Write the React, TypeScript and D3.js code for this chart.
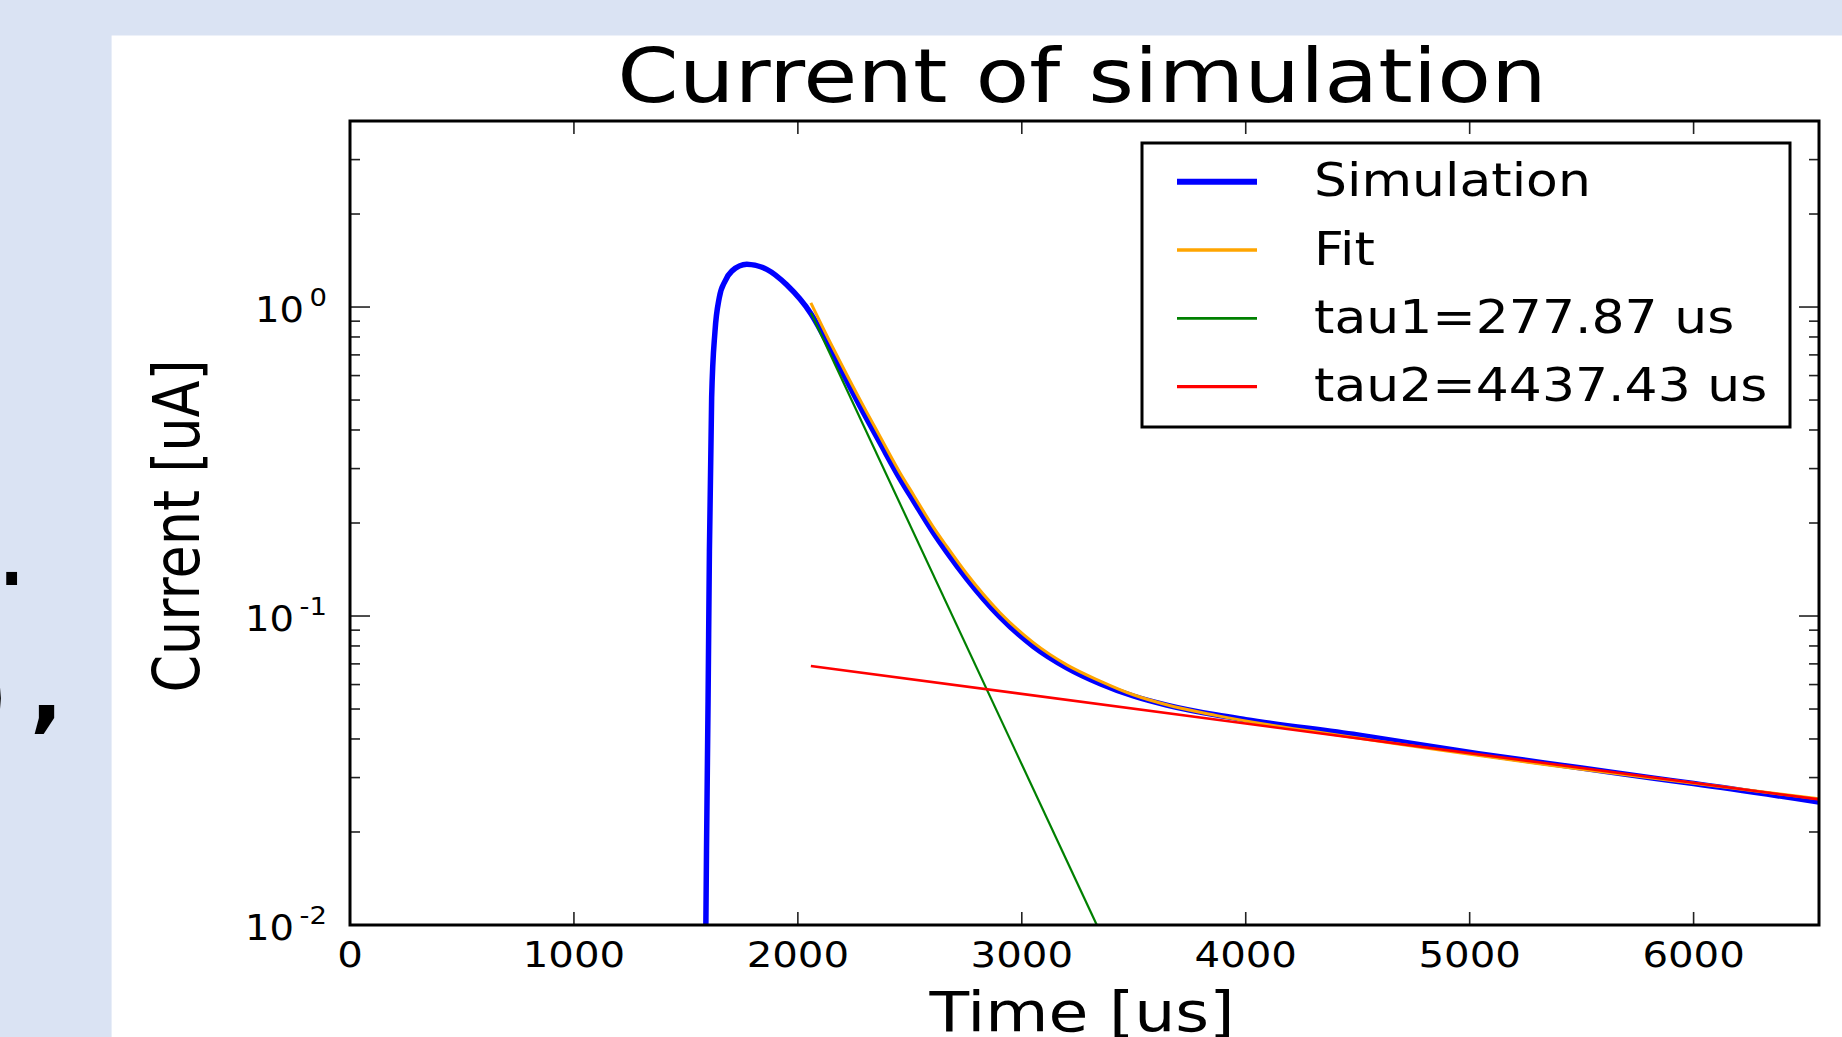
import React from "react";
import * as d3 from "d3";

// values (time in us, current in uA)
const simTime = [1588, 1592, 1599, 1605, 1615, 1630, 1649, 1675, 1705, 1772, 1861, 1950, 2059, 2144, 2218, 2308, 2367, 2456, 2516, 2605, 2665, 2754, 2903, 3052, 3201, 3350, 3498, 3647, 3871, 4000, 4500, 5047, 5500, 5800, 6000, 6560];
const simCurrent = [0.008, 0.0174, 0.053, 0.162, 0.509, 0.836, 1.072, 1.214, 1.307, 1.375, 1.324, 1.18, 0.95, 0.735, 0.578, 0.434, 0.363, 0.278, 0.236, 0.186, 0.161, 0.132, 0.0992, 0.0797, 0.068, 0.0604, 0.0551, 0.0515, 0.0478, 0.0462, 0.0412, 0.0358, 0.0322, 0.03, 0.0287, 0.025];

const fitTime = [2058, 2144, 2218, 2308, 2367, 2456, 2516, 2605, 2665, 2754, 2903, 3052, 3201, 3350, 3498, 3647, 3871, 4500, 5500, 6560];
const fitCurrent = [1.032, 0.77, 0.605, 0.456, 0.381, 0.291, 0.247, 0.194, 0.168, 0.137, 0.1025, 0.082, 0.0695, 0.0616, 0.0556, 0.0516, 0.0476, 0.0403, 0.0319, 0.0256];

const tau1Time = [2058, 3335];
const tau1Current = [0.958, 0.01];

const tau2Time = [2058, 6560];
const tau2Current = [0.0689, 0.0255];

const legendLabels = ["Simulation", "Fit", "tau1=277.87 us", "tau2=4437.43 us"];
const xTickValues = [0, 1000, 2000, 3000, 4000, 5000, 6000];

const W = 1842;
const H = 1037;
const plot = { left: 350, right: 1819, top: 121, bottom: 925 };
const font = "'DejaVu Sans', sans-serif";

// the picture is stretched sideways, so text gets a horizontal scale
const SText = ({ x, y, sx = 1.15, size, anchor = "start", children }: any) => (
  <text
    transform={`translate(${x},${y}) scale(${sx},1)`}
    fontSize={size}
    textAnchor={anchor}
    fontFamily={font}
    fill="#000"
  >
    {children}
  </text>
);

export default function App() {
  const x = d3.scaleLinear().domain([0, 6560]).range([plot.left, plot.right]);
  const y = d3.scaleLog().domain([0.01, 4]).range([plot.bottom, plot.top]);

  const line = d3
    .line<[number, number]>()
    .x((d) => x(d[0]))
    .y((d) => y(d[1]))
    .curve(d3.curveMonotoneX);

  const zip = (a: number[], b: number[]) => a.map((t, i) => [t, b[i]] as [number, number]);

  const series = [
    { name: legendLabels[0], data: zip(simTime, simCurrent), color: "#0000ff", width: 5.5 },
    { name: legendLabels[1], data: zip(fitTime, fitCurrent), color: "#ffa500", width: 3 },
    { name: legendLabels[2], data: zip(tau1Time, tau1Current), color: "#008000", width: 2.2 },
    { name: legendLabels[3], data: zip(tau2Time, tau2Current), color: "#ff0000", width: 2.6 },
  ];

  const isMajor = (d: number) => Math.abs(Math.log10(d) - Math.round(Math.log10(d))) < 1e-9;
  const yTicks = y.ticks();
  const yMajor = yTicks.filter(isMajor);
  const yMinor = yTicks.filter((d) => !isMajor(d));

  const legend = { x0: 1142, x1: 1790, y0: 143, y1: 427 };
  const rowY = (i: number) => 181.7 + i * 68.3;

  return (
    <svg
      width={W}
      height={H}
      style={{ position: "absolute", left: 0, top: 0 }}
      fontFamily={font}
    >
      <rect x={0} y={0} width={W} height={H} fill="#dae3f3" />
      <rect x={111.6} y={35.5} width={W - 111.6} height={H - 35.5} fill="#ffffff" />

      {/* slide text fragments in the left margin */}
      <text x={-5} y={585} fontSize={105} fontFamily={font} fill="#000">.</text>
      <text x={9} y={728} fontSize={95} fontFamily={font} textAnchor="end" fill="#000">)</text>
      <text x={30} y={722} fontSize={87} fontFamily={font} fontWeight="bold" fill="#000">,</text>

      <defs>
        <clipPath id="plot-clip">
          <rect x={plot.left} y={plot.top} width={plot.right - plot.left} height={plot.bottom - plot.top} />
        </clipPath>
      </defs>

      {/* title */}
      <SText x={1082} y={101.7} size={75.5} sx={1.165} anchor="middle">
        Current of simulation
      </SText>

      {/* curves */}
      <g clipPath="url(#plot-clip)">
        {series.map((s) => (
          <path
            key={s.name}
            d={line(s.data) || ""}
            fill="none"
            stroke={s.color}
            strokeWidth={s.width}
            strokeLinejoin="round"
          />
        ))}
      </g>

      {/* ticks: x majors on top and bottom, pointing inward */}
      <g stroke="#222" strokeWidth={1.6}>
        {xTickValues.map((t) => (
          <g key={`xt${t}`}>
            <line x1={x(t)} x2={x(t)} y1={plot.bottom} y2={plot.bottom - 13} />
            <line x1={x(t)} x2={x(t)} y1={plot.top} y2={plot.top + 13} />
          </g>
        ))}
        {yMajor.map((v) => (
          <g key={`ym${v}`}>
            <line x1={plot.left} x2={plot.left + 20} y1={y(v)} y2={y(v)} />
            <line x1={plot.right} x2={plot.right - 20} y1={y(v)} y2={y(v)} />
          </g>
        ))}
        {yMinor.map((v) => (
          <g key={`yn${v}`}>
            <line x1={plot.left} x2={plot.left + 10} y1={y(v)} y2={y(v)} />
            <line x1={plot.right} x2={plot.right - 10} y1={y(v)} y2={y(v)} />
          </g>
        ))}
      </g>

      {/* frame */}
      <rect
        x={plot.left}
        y={plot.top}
        width={plot.right - plot.left}
        height={plot.bottom - plot.top}
        fill="none"
        stroke="#000"
        strokeWidth={3}
      />

      {/* x tick labels */}
      {xTickValues.map((t) => (
        <SText key={`xl${t}`} x={x(t)} y={967.3} size={35} sx={1.15} anchor="middle">
          {t}
        </SText>
      ))}

      {/* y tick labels as powers of ten */}
      {yMajor.map((v) => (
        <SText key={`yl${v}`} x={327} y={y(v) + 14.7} size={35} sx={1.1} anchor="end">
          <tspan>10</tspan>
          <tspan dx={5} dy={-15.5} fontSize={25}>
            {String(Math.round(Math.log10(v)))}
          </tspan>
        </SText>
      ))}

      {/* axis labels */}
      <SText x={1082} y={1031} size={55} sx={1.18} anchor="middle">
        Time [us]
      </SText>
      <text
        transform={`translate(199,526) scale(1.2,1) rotate(-90)`}
        fontSize={54}
        textAnchor="middle"
        fontFamily={font}
        fill="#000"
      >
        Current [uA]
      </text>

      {/* legend */}
      <rect
        x={legend.x0}
        y={legend.y0}
        width={legend.x1 - legend.x0}
        height={legend.y1 - legend.y0}
        fill="#fff"
        stroke="#000"
        strokeWidth={3}
      />
      {series.map((s, i) => (
        <g key={`lg${s.name}`}>
          <line
            x1={1177}
            x2={1257}
            y1={rowY(i)}
            y2={rowY(i)}
            stroke={s.color}
            strokeWidth={i === 0 ? 6 : s.width + 0.5}
          />
          <SText x={1314} y={rowY(i) + 14.5} size={46} sx={1.13}>
            {s.name}
          </SText>
        </g>
      ))}
    </svg>
  );
}
